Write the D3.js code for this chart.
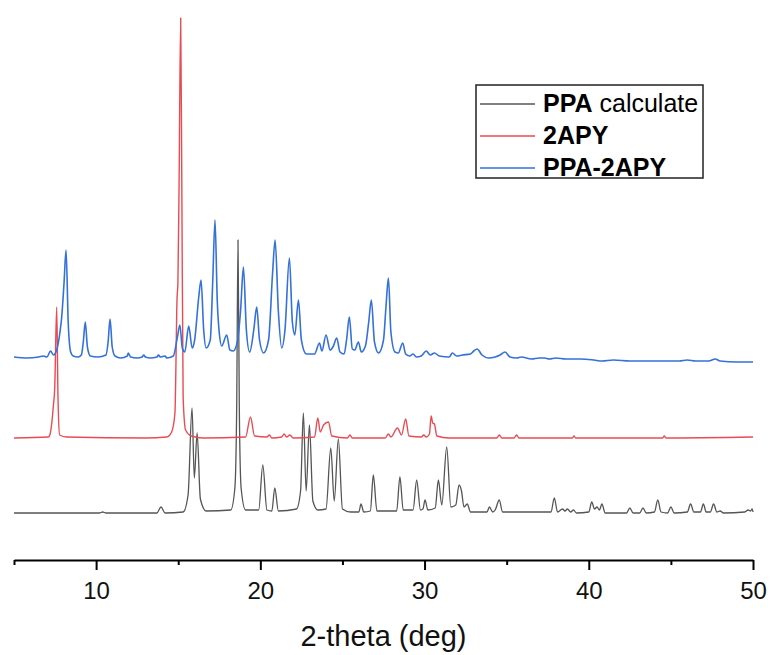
<!DOCTYPE html>
<html>
<head>
<meta charset="utf-8">
<script src="https://cdn.jsdelivr.net/npm/d3@7"></script>
<style>
  body { margin: 0; background: #fff; }
  svg { display: block; font-family: "Liberation Sans", Arial, sans-serif; }
</style>
</head>
<body>
<div id="chart"></div>
<script>
// series names and stacking offsets (intensity units)
const seriesNames = ["PPA calculate", "2APY", "PPA-2APY"];
const seriesOffsets = [47, 122, 198];

// x ticks
const majorTicks = [10, 20, 30, 40, 50];
const minorTicks = [5, 15, 25, 35, 45];

// PPA calculate: [2-theta, intensity]
const ppaCalc = [
  [5.0, 0], [10.2, 0], [10.4, 1], [10.6, 0], [13.7, 0], [13.95, 6], [14.2, 0],
  [15.3, 1], [15.6, 18], [15.84, 105], [15.98, 35], [16.15, 80], [16.35, 14], [16.7, 2],
  [18.2, 3], [18.45, 25], [18.56, 105], [18.64, 273], [18.72, 105], [18.83, 25], [19.1, 3],
  [19.9, 3], [20.15, 48], [20.4, 3], [20.7, 2], [20.88, 25], [21.1, 2],
  [22.2, 4], [22.45, 22], [22.62, 100], [22.79, 22], [22.99, 88], [23.2, 12], [23.5, 3],
  [24.0, 4], [24.29, 65], [24.5, 12], [24.75, 74], [25.0, 4], [25.5, 1],
  [26.0, 1], [26.13, 9], [26.3, 1], [26.7, 2], [26.88, 38], [27.1, 2],
  [28.3, 2], [28.5, 36], [28.7, 3], [29.3, 3], [29.52, 33], [29.75, 3],
  [29.9, 4], [30.03, 13], [30.2, 3], [30.65, 5], [30.84, 33], [31.05, 8],
  [31.35, 66], [31.6, 6], [31.9, 8], [32.1, 28], [32.25, 22], [32.4, 6], [32.6, 9], [32.8, 1],
  [33.8, 1], [33.95, 6], [34.15, 1], [34.3, 3], [34.55, 13], [34.75, 1],
  [37.7, 1], [37.9, 15], [38.1, 1], [38.4, 4], [38.55, 2], [38.7, 4], [38.9, 1],
  [39.07, 3], [39.25, 0], [40.0, 1], [40.18, 11], [40.35, 4], [40.5, 6], [40.65, 3],
  [40.8, 9], [41.0, 0], [42.3, 0], [42.5, 5], [42.7, 0], [43.1, 0], [43.3, 5], [43.5, 0],
  [44.0, 1], [44.2, 13], [44.4, 1], [44.8, 0], [45.0, 6], [45.2, 0],
  [46.0, 1], [46.2, 9], [46.4, 1], [46.8, 1], [46.98, 9], [47.15, 1],
  [47.4, 1], [47.6, 9], [47.8, 1], [48.0, 2], [48.2, 0],
  [49.5, 1], [49.7, 3], [49.85, 2], [49.95, 4], [50.0, 1]
];

// 2APY
const apy = [
  [5.0, 0], [7.1, 1], [7.2, 4], [7.32, 18], [7.39, 31], [7.48, 50], [7.6, 131],
  [7.68, 40], [7.78, 3], [8.2, 1], [13.0, 0], [14.3, 1], [14.6, 6], [14.8, 25],
  [14.93, 140], [14.98, 155], [15.05, 250], [15.15, 420], [15.22, 250], [15.3, 40],
  [15.45, 8], [15.8, 2], [16.5, 0],
  [19.1, 1], [19.4, 21], [19.65, 2], [20.4, 1], [20.55, 3], [20.7, 0],
  [21.3, 1], [21.45, 4], [21.6, 1], [21.8, 3], [22.0, 0],
  [23.3, 1], [23.5, 20], [23.65, 6], [23.85, 13], [24.15, 16], [24.35, 2],
  [25.3, 0], [25.45, 3], [25.6, 0], [27.6, 0], [27.8, 4], [27.95, 1],
  [28.35, 10], [28.6, 3], [28.85, 19], [29.05, 2], [29.8, 1], [29.95, 3], [30.1, 1],
  [30.3, 4], [30.4, 22], [30.5, 15], [30.6, 14], [30.75, 2], [31.5, 0],
  [34.4, 0], [34.55, 3], [34.7, 0], [35.45, 0], [35.6, 3], [35.75, 0],
  [39.0, 0], [39.1, 2], [39.2, 0], [44.5, 0], [44.6, 2], [44.7, 0], [50.0, 1]
];

// PPA-2APY
const ppaApy = [
  [5.0, 5], [5.8, 4], [6.5, 5], [6.8, 6], [7.0, 5], [7.23, 11], [7.4, 7], [7.6, 12], [7.8, 30],
  [7.9, 44], [8.05, 80], [8.17, 112], [8.3, 40], [8.45, 10], [8.6, 6], [8.9, 5],
  [9.1, 7], [9.22, 20], [9.34, 40], [9.47, 15], [9.65, 6], [10.1, 5],
  [10.6, 7], [10.73, 20], [10.85, 43], [10.98, 15], [11.15, 6], [11.5, 4],
  [11.9, 6], [11.96, 9], [12.1, 5], [12.5, 4], [12.8, 5], [12.9, 7], [13.0, 5], [13.3, 4],
  [13.7, 5], [13.8, 7], [13.9, 5], [14.2, 6], [14.3, 4], [14.7, 6],
  [14.95, 25], [15.1, 37], [15.25, 14], [15.4, 10], [15.64, 36], [15.85, 14],
  [16.0, 22], [16.25, 65], [16.39, 82], [16.55, 32], [16.7, 14], [16.95, 22],
  [17.1, 80], [17.24, 142], [17.38, 60], [17.5, 29], [17.65, 16], [17.95, 27],
  [18.15, 12], [18.35, 11], [18.6, 20], [18.8, 52], [18.97, 95], [19.15, 32],
  [19.35, 10], [19.6, 32], [19.78, 55], [19.95, 22], [20.2, 9], [20.5, 22],
  [20.75, 90], [20.9, 122], [21.1, 50], [21.3, 14], [21.5, 32], [21.77, 104],
  [21.95, 40], [22.1, 27], [22.32, 62], [22.5, 22], [22.8, 8], [23.3, 8],
  [23.6, 19], [23.75, 11], [24.0, 27], [24.25, 12], [24.45, 16], [24.65, 24],
  [24.85, 10], [25.1, 8], [25.25, 22], [25.42, 45], [25.6, 13], [25.75, 12],
  [25.97, 20], [26.15, 10], [26.4, 16], [26.6, 40], [26.76, 62], [26.95, 20],
  [27.2, 9], [27.5, 22], [27.65, 55], [27.8, 84], [27.95, 30], [28.2, 10],
  [28.4, 9], [28.67, 19], [28.85, 8], [29.1, 6], [29.3, 8], [29.5, 5], [29.8, 6],
  [30.1, 11], [30.35, 7], [30.6, 9], [30.9, 6], [31.5, 5], [31.7, 9], [31.95, 6],
  [32.3, 7], [32.8, 8], [33.0, 11], [33.2, 13], [33.5, 7], [33.9, 4], [34.3, 5],
  [34.6, 7], [34.9, 10], [35.2, 5], [35.6, 4], [35.9, 5], [36.5, 3], [37.0, 4],
  [37.3, 4], [37.6, 3], [38.0, 4], [38.6, 3], [39.5, 3], [40.3, 2], [40.8, 1],
  [41.5, 2], [42.5, 1], [43.5, 1], [44.5, 1], [45.5, 1], [46.0, 2], [46.5, 1],
  [47.3, 1], [47.7, 3], [48.0, 1], [49.0, 0], [50.0, 0]
];

const allSeries = [ppaCalc, apy, ppaApy];
const colors = ["#555555", "#ea4a52", "#3471d8"];
const widths = [1.3, 1.4, 1.6];

const w = 772;
const h = 655;

const svg = d3.select("#chart")
  .append("svg")
  .attr("width", w)
  .attr("height", h);

// scales
const xScale = d3.scaleLinear()
  .domain([5, 50])
  .range([14, 753]);

const yScale = d3.scaleLinear()
  .domain([0, 540])
  .range([560, 20]);

// patterns
allSeries.forEach((data, i) => {
  const line = d3.line()
    .x((d) => xScale(d[0]))
    .y((d) => yScale(d[1] + seriesOffsets[i]))
    .curve(d3.curveMonotoneX);

  svg.append("path")
    .attr("d", line(data))
    .attr("fill", "none")
    .attr("stroke", colors[i])
    .attr("stroke-width", widths[i])
    .attr("stroke-linejoin", "round");
});

// x axis: minor ticks then major ticks with labels
svg.append("g")
  .attr("transform", "translate(0," + yScale(0) + ")")
  .call(d3.axisBottom(xScale).tickValues(minorTicks).tickSize(5).tickSizeOuter(0).tickFormat(""))
  .call((g) => g.select(".domain").remove())
  .selectAll("line").attr("stroke", "#000").attr("stroke-width", 2);

const xAxis = svg.append("g")
  .attr("transform", "translate(0," + yScale(0) + ")")
  .call(d3.axisBottom(xScale).tickValues(majorTicks).tickSize(10).tickSizeOuter(0).tickPadding(12));

xAxis.select(".domain").attr("stroke", "#000").attr("stroke-width", 2);
xAxis.selectAll(".tick line").attr("stroke", "#000").attr("stroke-width", 2);
xAxis.selectAll(".tick text")
  .attr("fill", "#111")
  .style("font-size", "24px")
  .style("font-family", "'Liberation Sans', Arial, sans-serif");

svg.append("text")
  .attr("x", (xScale(5) + xScale(50)) / 2)
  .attr("y", 646)
  .attr("text-anchor", "middle")
  .attr("fill", "#111")
  .style("font-size", "29px")
  .text("2-theta (deg)");

// legend
const legend = svg.append("g");

legend.append("rect")
  .attr("x", 476)
  .attr("y", 85)
  .attr("width", 227)
  .attr("height", 93)
  .attr("fill", "#fff")
  .attr("stroke", "#222")
  .attr("stroke-width", 1.5);

seriesNames.forEach((name, i) => {
  const cy = 104 + i * 32;
  legend.append("line")
    .attr("x1", 480)
    .attr("x2", 535)
    .attr("y1", cy)
    .attr("y2", cy)
    .attr("stroke", colors[i])
    .attr("stroke-width", 1.4);

  const t = legend.append("text")
    .attr("x", 543)
    .attr("y", cy + 8)
    .attr("fill", "#000")
    .style("font-size", "25px");

  if (name === "PPA calculate") {
    t.append("tspan").style("font-weight", "bold").text("PPA");
    t.append("tspan").text(" calculate");
  } else {
    t.append("tspan").style("font-weight", "bold").text(name);
  }
});
</script>
</body>
</html>
